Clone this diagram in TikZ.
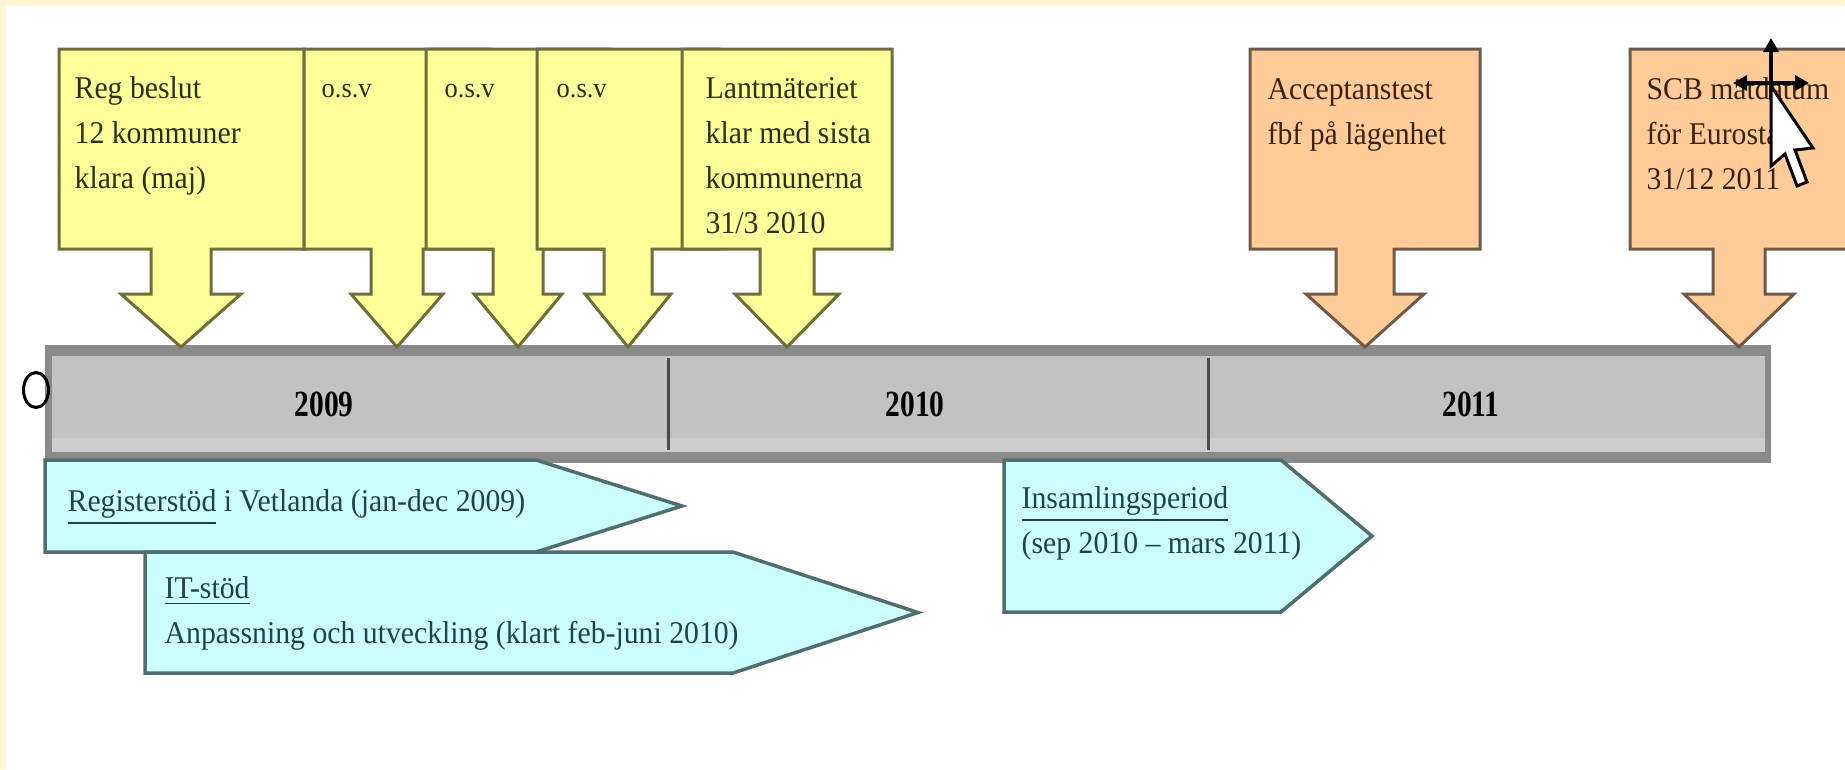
\documentclass[tikz,border=0pt]{standalone}
\usepackage{fontspec}
\setmainfont{Liberation Serif}[FakeStretch=0.94]
\newfontfamily\yearfont{Liberation Serif}[FakeStretch=0.8]
\usetikzlibrary{arrows.meta}

\definecolor{pagefrm}{HTML}{FDF6CF}
\definecolor{notefill}{HTML}{FFFF99}
\definecolor{noteline}{HTML}{6E6E3A}
\definecolor{notetextc}{HTML}{2E2E10}
\definecolor{testfill}{HTML}{FFCC99}
\definecolor{testline}{HTML}{6E5A48}
\definecolor{testtextc}{HTML}{3A2410}
\definecolor{spanfill}{HTML}{CCFFFF}
\definecolor{spanline}{HTML}{4F6F6E}
\definecolor{spantextc}{HTML}{1F4444}
\definecolor{barouter}{HTML}{8A8A8A}
\definecolor{barinner}{HTML}{C2C2C2}
\definecolor{barlight}{HTML}{CCCCCC}
\definecolor{bardiv}{HTML}{4A4A4A}

\tikzset{
  notebox/.style={fill=notefill, draw=noteline, line width=0.3mm},
  testbox/.style={fill=testfill, draw=testline, line width=0.3mm},
  spanbox/.style={fill=spanfill, draw=spanline, line width=0.35mm},
  boxtext/.style={anchor=north west, inner sep=0pt, align=left, font=\fontsize{9}{12.8}\selectfont},
  notetext/.style={boxtext, text=notetextc},
  testtext/.style={boxtext, text=testtextc},
  spantext/.style={boxtext, text=spantextc},
  etctext/.style={anchor=base west, inner sep=0pt, text=notetextc, font=\fontsize{8}{10}\selectfont},
  yearlabel/.style={inner sep=0pt, font=\yearfont\bfseries\fontsize{10.5}{12}\selectfont}
}

% callout: style, left, right, arrow x, stem half width, head half width
\newcommand{\downcallout}[6]{%
  \draw[#1] (#2,49) -- (#3,49) -- (#3,249) -- (#4+#5,249) -- (#4+#5,294)
    -- (#4+#6,294) -- (#4,347) -- (#4-#6,294) -- (#4-#5,294) -- (#4-#5,249)
    -- (#2,249) -- cycle;}
% period arrow: left, body end, tip, top, bottom
\newcommand{\spanarrow}[5]{%
  \draw[spanbox] (#1,#4) -- (#2,#4) -- (#3,{(#4+#5)/2}) -- (#2,#5) -- (#1,#5) -- cycle;}

\begin{document}
\begin{tikzpicture}[x=0.1mm, y=-0.1mm]
  \useasboundingbox (0,0) rectangle (1845,769);
  \clip (0,0) rectangle (1845,769);
  \fill[white] (0,0) rectangle (1845,769);
  \fill[pagefrm] (0,0) rectangle (1845,6);
  \fill[pagefrm] (0,0) rectangle (6,769);

  % timeline bar
  \fill[barouter] (45,345) rectangle (1771,463);
  \fill[barinner] (52,356) rectangle (1765,452);
  \fill[barlight] (52,438) rectangle (1765,452);
  \draw[bardiv, line width=0.3mm] (668,358) -- (668,450);
  \draw[bardiv, line width=0.3mm] (1208,358) -- (1208,450);
  \node[yearlabel] (y2009) at (324,404) {2009};
  \node[yearlabel] (y2010) at (915,404) {2010};
  \node[yearlabel] (y2011) at (1471,404) {2011};
  \draw[line width=0.3mm] (36,390) ellipse [x radius=1.25mm, y radius=1.75mm];

  % milestones
  \downcallout{notebox}{59}{304}{181}{30}{60}
  \downcallout{notebox}{304}{490}{397}{26}{46}
  \downcallout{notebox}{426}{610}{518}{25}{44}
  \downcallout{notebox}{537}{719}{628}{24}{43}
  \downcallout{notebox}{682}{892}{787}{27}{52}
  \downcallout{testbox}{1250}{1480}{1365}{29}{59}
  \downcallout{testbox}{1630}{1850}{1739}{26}{55}

  \node[notetext] (regbeslut) at (74,66) {\strut Reg beslut\\12 kommuner\\klara (maj)};
  \node[etctext] (etc1) at (321,97) {o.s.v};
  \node[etctext] (etc2) at (444,97) {o.s.v};
  \node[etctext] (etc3) at (556,97) {o.s.v};
  \node[notetext] (lantm) at (705,66) {\strut Lantmäteriet\\klar med sista\\kommunerna\\31/3 2010};
  \node[testtext] (acctest) at (1267,67) {\strut Acceptanstest\\fbf på lägenhet};
  \node[testtext] (scb) at (1646,67) {\strut SCB mätdatum\\för Eurostat\\31/12 2011};

  % periods
  \spanarrow{45}{536}{682}{460}{552}
  \spanarrow{145}{733}{918}{552}{673}
  \spanarrow{1004}{1281}{1372}{460}{612}
  \node[spantext] (regstod) at (67,479) {\strut\underline{Registerstöd} i Vetlanda (jan-dec 2009)};
  \node[spantext] (itstod) at (164,566) {\strut\underline{IT-stöd}\\Anpassning och utveckling (klart feb-juni 2010)};
  \node[spantext] (insaml) at (1021,476) {\strut\underline{Insamlingsperiod}\\(sep 2010 -- mars 2011)};

  % mouse cursor
  \draw[line width=0.35mm, {Triangle[length=1.4mm,width=1.5mm]}-{Triangle[length=1.4mm,width=1.5mm]}] (1733,83) -- (1809,83);
  \draw[line width=0.35mm, {Triangle[length=1.4mm,width=1.5mm]}-] (1771,38) -- (1771,100);
  \draw[fill=white, line width=0.3mm] (1771,86) -- ++(0,80) -- ++(14,-12) -- ++(12,32)
    -- ++(10,-4) -- ++(-12,-32) -- ++(18,-2) -- cycle;
\end{tikzpicture}
\end{document}
